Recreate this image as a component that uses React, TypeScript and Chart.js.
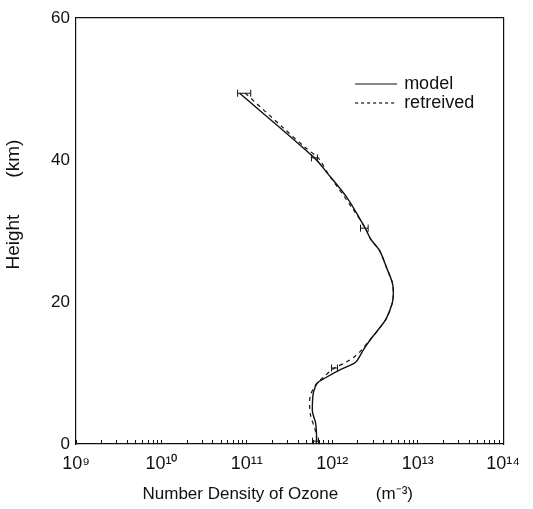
import React, { useEffect, useRef } from "react";
import { Chart, registerables } from "chart.js";

Chart.register(...registerables);

// ---- data ----
const modelHeight = [49.4, 40.3, 38.3, 34.8, 30.6, 28.7, 27.3, 24.9, 22.7, 21.3, 19.9, 17.7, 16.3, 14.9, 13.5, 11.8, 11.4, 10.4, 9.4, 8.6, 7.3, 5.9, 4.5, 3.0, 1.5, 0];
const modelDensity = [8.24e10, 6.19e11, 8.55e11, 1.466e12, 2.38e12, 2.87e12, 3.56e12, 4.3e12, 5.05e12, 5.19e12, 5.05e12, 4.3e12, 3.56e12, 2.87e12, 2.38e12, 1.97e12, 1.82e12, 1.21e12, 8.55e11, 6.71e11, 6.03e11, 5.87e11, 5.87e11, 6.37e11, 6.53e11, 6.53e11];

const retrievedHeight = [49.4, 44.6, 41.8, 40.3, 39.3, 38.3, 33.2, 30.6, 28.7, 27.3, 24.9, 22.7, 21.3, 19.9, 17.7, 16.3, 14.9, 13.2, 12.3, 11.4, 10.7, 9.3, 8.3, 6.9, 5.5, 4.1, 2.7, 1.3, 0];
const retrievedDensity = [9.6e10, 2.63e11, 4.79e11, 6.85e11, 7.8e11, 8.7e11, 1.72e12, 2.38e12, 2.87e12, 3.56e12, 4.3e12, 5.05e12, 5.19e12, 5.05e12, 4.3e12, 3.56e12, 2.87e12, 2.19e12, 1.82e12, 1.39e12, 1.06e12, 7.69e11, 6.37e11, 5.56e11, 5.42e11, 5.56e11, 6.03e11, 6.53e11, 6.53e11];

const errHeight = [49.4, 40.3, 30.4, 10.7, 0.4];
const errLow = [7.8e10, 5.7e11, 2.14e12, 9.8e11, 5.87e11];
const errHigh = [1.11e11, 6.7e11, 2.63e12, 1.15e12, 6.9e11];

const decadeTicks = [1e9, 1e10, 1e11, 1e12, 1e13, 1e14];
const decadeLabels = ["10⁹", "10¹⁰", "10¹¹", "10¹²", "10¹³", "10¹⁴"];
const minorMultipliers = [2, 3, 4, 5, 6, 7, 8, 9];
const yTicks = [0, 20, 40, 60];

const seriesNames = ["model", "retreived"];
const xTitle = "Number Density of Ozone        (m⁻³)     ";
const yTitle = "          Height       (km)";

const FONT = "'Liberation Sans', Arial, sans-serif";

const legendPlugin = {
  id: "insideLegend",
  afterDatasetsDraw(chart: any) {
    const { ctx, chartArea } = chart;
    const x0 = chartArea.right - 148;
    const x1 = chartArea.right - 106;
    const tx = chartArea.right - 99;
    const rows = [chartArea.top + 66, chartArea.top + 85];
    ctx.save();
    ctx.strokeStyle = "#111";
    ctx.fillStyle = "#111";
    ctx.lineWidth = 1.2;
    ctx.font = `18px ${FONT}`;
    ctx.textBaseline = "middle";
    ctx.textAlign = "left";
    seriesNames.forEach((name, i) => {
      ctx.beginPath();
      ctx.setLineDash(i === 0 ? [] : [3, 3]);
      ctx.moveTo(x0, rows[i]);
      ctx.lineTo(x1, rows[i]);
      ctx.stroke();
      ctx.setLineDash([]);
      ctx.fillText(name, tx, rows[i]);
    });
    ctx.restore();
  },
};

export default function App() {
  const canvasRef = useRef<HTMLCanvasElement | null>(null);

  useEffect(() => {
    if (!canvasRef.current) return;
    Chart.defaults.font.family = FONT;
    Chart.defaults.color = "#111";

    const toPoints = (xs: number[], ys: number[]) => xs.map((x, i) => ({ x, y: ys[i] }));

    const errDatasets = errHeight.map((h, i) => ({
      label: "err" + i,
      data: [
        { x: errLow[i], y: h },
        { x: errHigh[i], y: h },
      ],
      showLine: true,
      borderColor: "#111",
      borderWidth: 1,
      pointStyle: "line",
      rotation: 90,
      pointRadius: 3.5,
      pointBorderColor: "#111",
      pointBorderWidth: 1,
      pointHoverRadius: 0,
    }));

    const allXTicks: number[] = [];
    decadeTicks.forEach((d, i) => {
      allXTicks.push(d);
      if (i < decadeTicks.length - 1) minorMultipliers.forEach((m) => allXTicks.push(d * m));
    });

    const chart = new Chart(canvasRef.current, {
      type: "scatter",
      data: {
        datasets: [
          {
            label: seriesNames[0],
            data: toPoints(modelDensity, modelHeight),
            showLine: true,
            borderColor: "#111",
            borderWidth: 1.4,
            pointRadius: 0,
            tension: 0.3,
          },
          {
            label: seriesNames[1],
            data: toPoints(retrievedDensity, retrievedHeight),
            showLine: true,
            borderColor: "#111",
            borderWidth: 1.2,
            borderDash: [4, 4],
            pointRadius: 0,
            tension: 0.3,
          },
          ...errDatasets,
        ] as any,
      },
      options: {
        animation: false,
        responsive: true,
        maintainAspectRatio: false,
        layout: { padding: { left: 0, right: 29, top: 18, bottom: 0 } },
        plugins: {
          legend: { display: false },
          tooltip: { enabled: false },
        },
        scales: {
          x: {
            type: "logarithmic",
            position: "bottom",
            min: 1e9,
            max: 1e14,
            afterBuildTicks: (scale: any) => {
              scale.ticks = allXTicks.map((v) => ({ value: v, major: decadeTicks.includes(v) }));
            },
            afterFit: (scale: any) => {
              scale.height = 65;
            },
            ticks: {
              autoSkip: false,
              maxRotation: 0,
              minRotation: 0,
              padding: 13,
              font: { size: 18 },
              color: "#111",
              callback: (value: any) => {
                const k = decadeTicks.indexOf(Number(value));
                return k >= 0 ? decadeLabels[k] : "";
              },
            },
            grid: {
              display: true,
              drawOnChartArea: false,
              drawTicks: true,
              tickLength: -4,
              tickColor: "#111",
              tickWidth: 1,
            },
            border: { display: true, color: "#111", width: 1.2 },
            title: {
              display: true,
              text: xTitle,
              font: { size: 17 },
              color: "#111",
              padding: { top: 0, bottom: 4 },
            },
          },
          y: {
            type: "linear",
            position: "left",
            min: 0,
            max: 60,
            afterBuildTicks: (scale: any) => {
              scale.ticks = yTicks.map((v) => ({ value: v }));
            },
            afterFit: (scale: any) => {
              scale.width = 76;
            },
            ticks: {
              padding: 6,
              font: { size: 17 },
              color: "#111",
            },
            grid: { display: false, drawTicks: false },
            border: { display: true, color: "#111", width: 1.2 },
            title: {
              display: true,
              text: yTitle,
              font: { size: 19 },
              color: "#111",
              padding: { top: 2, bottom: 0 },
            },
          },
          x2: {
            type: "linear",
            position: "top",
            min: 0,
            max: 1,
            ticks: { display: false },
            grid: { display: false, drawTicks: false },
            border: { display: true, color: "#111", width: 1.2 },
            afterFit: (scale: any) => {
              scale.height = 0;
            },
          },
          y2: {
            type: "linear",
            position: "right",
            min: 0,
            max: 1,
            ticks: { display: false },
            grid: { display: false, drawTicks: false },
            border: { display: true, color: "#111", width: 1.2 },
            afterFit: (scale: any) => {
              scale.width = 0;
            },
          },
        },
      } as any,
      plugins: [legendPlugin],
    });

    return () => chart.destroy();
  }, []);

  return (
    <div style={{ position: "fixed", left: 0, top: 0, width: 533, height: 509, background: "#fff" }}>
      <canvas ref={canvasRef} />
    </div>
  );
}
